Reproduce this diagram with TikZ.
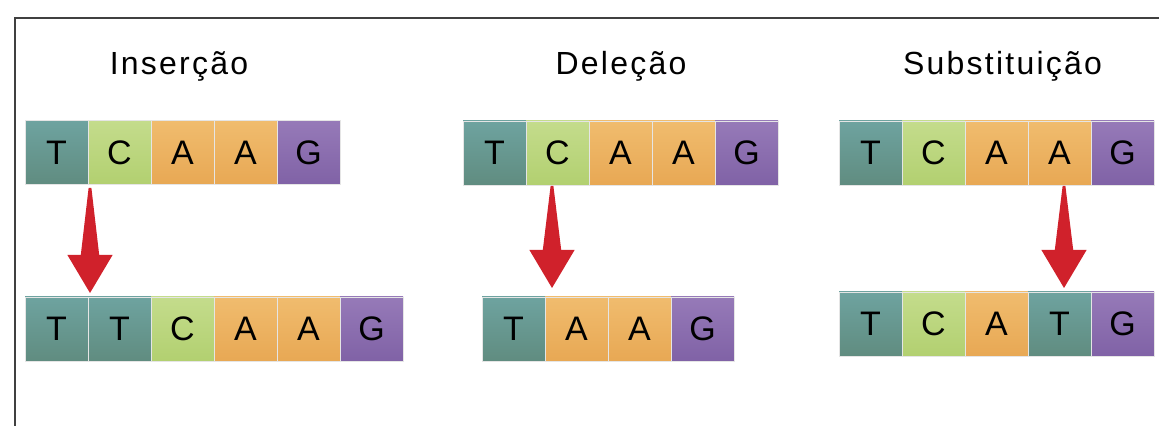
\documentclass[tikz,border=0pt]{standalone}
\usepackage{fontspec}
\setmainfont{Liberation Sans}
\newfontfamily\titlefont[LetterSpace=7]{Liberation Sans}
\usetikzlibrary{positioning,calc}
\definecolor{tTop}{RGB}{110,163,160}
\definecolor{tBot}{RGB}{96,140,128}
\definecolor{cTop}{RGB}{196,220,140}
\definecolor{cBot}{RGB}{178,208,112}
\definecolor{aTop}{RGB}{240,188,110}
\definecolor{aBot}{RGB}{232,168,84}
\definecolor{gTop}{RGB}{150,122,184}
\definecolor{gBot}{RGB}{128,98,166}
\definecolor{mutred}{RGB}{208,33,43}
\begin{document}
\begin{tikzpicture}[
    base/.style={rectangle, draw=black!10, line width=0.4pt, outer sep=0pt, inner sep=0pt, minimum width=31.5pt, minimum height=32pt, font=\fontsize{17}{20}\selectfont},
    nt/.style={base, top color=tTop, bottom color=tBot},
    nc/.style={base, top color=cTop, bottom color=cBot},
    na/.style={base, top color=aTop, bottom color=aBot},
    ng/.style={base, top color=gTop, bottom color=gBot},
    title/.style={anchor=base, font=\titlefont\fontsize{16}{19}\selectfont},
    mut/.style={fill=mutred},
    frame/.style={draw=black!75, line width=1pt},
]
\useasboundingbox (0,0) rectangle (579.5pt,-213pt);
\draw[frame] (7.5pt,-213pt) -- (7.5pt,-9pt) -- (579.5pt,-9pt);
% titles
\node[title] (tins) at (89.5pt,-37.5pt) {Inserção};
\node[title] (tdel) at (310.5pt,-37.5pt) {Deleção};
\node[title] (tsub) at (501.25pt,-37.5pt) {Substituição};
% insercao
\node[nt, anchor=west] (it1) at (12.5pt,-76.25pt) {T};
\node[nc, right=0pt of it1] (it2) {C};
\node[na, right=0pt of it2] (it3) {A};
\node[na, right=0pt of it3] (it4) {A};
\node[ng, right=0pt of it4] (it5) {G};
\node[nt, anchor=west] (ib1) at (12.5pt,-164.5pt) {T};
\node[nt, right=0pt of ib1] (ib2) {T};
\node[nc, right=0pt of ib2] (ib3) {C};
\node[na, right=0pt of ib3] (ib4) {A};
\node[na, right=0pt of ib4] (ib5) {A};
\node[ng, right=0pt of ib5] (ib6) {G};
% delecao
\node[nt, anchor=west] (dt1) at (231.5pt,-76.5pt) {T};
\node[nc, right=0pt of dt1] (dt2) {C};
\node[na, right=0pt of dt2] (dt3) {A};
\node[na, right=0pt of dt3] (dt4) {A};
\node[ng, right=0pt of dt4] (dt5) {G};
\node[nt, anchor=west] (db1) at (241pt,-164.5pt) {T};
\node[na, right=0pt of db1] (db2) {A};
\node[na, right=0pt of db2] (db3) {A};
\node[ng, right=0pt of db3] (db4) {G};
% substituicao
\node[nt, anchor=west] (st1) at (419.5pt,-76.5pt) {T};
\node[nc, right=0pt of st1] (st2) {C};
\node[na, right=0pt of st2] (st3) {A};
\node[na, right=0pt of st3] (st4) {A};
\node[ng, right=0pt of st4] (st5) {G};
\node[nt, anchor=west] (sb1) at (419.5pt,-162pt) {T};
\node[nc, right=0pt of sb1] (sb2) {C};
\node[na, right=0pt of sb2] (sb3) {A};
\node[nt, right=0pt of sb3] (sb4) {T};
\node[ng, right=0pt of sb4] (sb5) {G};
% arrows
\coordinate (ia) at ($(it1.south east)+(1pt,-1.75pt)$);
\coordinate (ie) at ($(ib1.north east)+(1pt,2pt)$);
\coordinate (da) at ($(dt2.south)+(-2.75pt,-0.5pt)$);
\coordinate (de) at ($(db1.north east)+(3.5pt,4.5pt)$);
\coordinate (sa) at ($(st4.south)+(2.25pt,-0.5pt)$);
\coordinate (se) at ($(sb4.north)+(2.25pt,2pt)$);
\fill[mut] ($(ia)+(-0.7pt,0)$) -- ($(ia)+(0.7pt,0)$) -- ($(ie)+(4.6pt,19pt)$) -- ($(ie)+(11.3pt,19pt)$) -- (ie) -- ($(ie)+(-11.3pt,19pt)$) -- ($(ie)+(-4.6pt,19pt)$) -- cycle;
\fill[mut] ($(da)+(-0.7pt,0)$) -- ($(da)+(0.7pt,0)$) -- ($(de)+(4.6pt,19pt)$) -- ($(de)+(11.3pt,19pt)$) -- (de) -- ($(de)+(-11.3pt,19pt)$) -- ($(de)+(-4.6pt,19pt)$) -- cycle;
\fill[mut] ($(sa)+(-0.7pt,0)$) -- ($(sa)+(0.7pt,0)$) -- ($(se)+(4.6pt,19pt)$) -- ($(se)+(11.3pt,19pt)$) -- (se) -- ($(se)+(-11.3pt,19pt)$) -- ($(se)+(-4.6pt,19pt)$) -- cycle;
\end{tikzpicture}
\end{document}
